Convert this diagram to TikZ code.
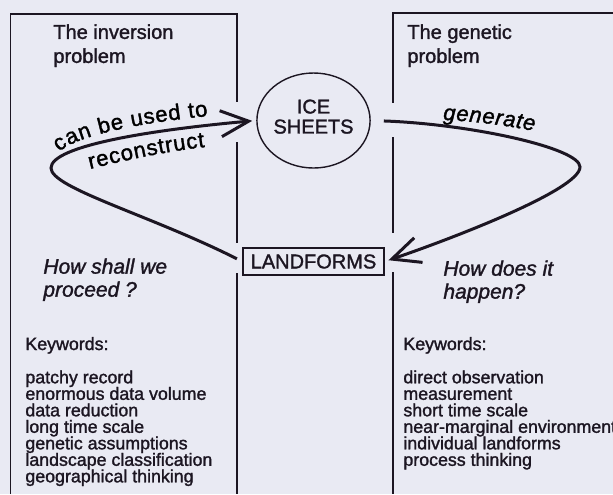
\documentclass[tikz,border=0pt]{standalone}
\usepackage{fontspec}
\setmainfont{Liberation Sans}[FakeBold=1.5]
\usetikzlibrary{shapes.geometric,arrows.meta,decorations.text}
\definecolor{paper}{RGB}{233,234,243}
\definecolor{ink}{RGB}{28,22,34}
\newcommand{\tightlines}{\lineskiplimit-20pt\relax}

\begin{document}
\begin{tikzpicture}[x=0.5pt,y=-0.5pt]
\tikzstyle{every node}+=[inner sep=0pt, text=ink]
\tikzstyle{frame}=[ink, line width=0.8pt]
\tikzstyle{loop}=[ink, line width=1.5pt, -{Straight Barb[length=14pt,width=13pt]}]
\tikzstyle{heading}=[anchor=north west, align=left, font=\fontsize{10}{12}\selectfont]
\tikzstyle{question}=[anchor=north west, align=left, font=\itshape\fontsize{10.5}{11.5}\selectfont]
\tikzstyle{keyhead}=[anchor=base west, font=\fontsize{8.9}{8.25}\selectfont]
\tikzstyle{keylist}=[anchor=north west, align=left, font=\fontsize{8.9}{8.25}\selectfont\tightlines]
\tikzstyle{curvetext}=[decorate, color=ink]
\fill [paper] (0,0) rectangle (613,494);
\useasboundingbox (0,0) rectangle (613,494);
% the two frames
\draw [frame] (10.5,494) -- (10.5,14) -- (237,14) -- (237,102);
\draw [frame] (237,142) -- (237,243);
\draw [frame] (237,273) -- (237,494);
\draw [frame] (613,13) -- (393,13) -- (393,103);
\draw [frame] (393,137) -- (393,233);
\draw [frame] (393,272) -- (393,494);
% middle
\node [ellipse, draw=ink, line width=0.7pt, minimum width=56.5pt, minimum height=47.5pt, align=center, text depth=4pt, font=\fontsize{10}{10}\selectfont] (ice) at (313.5,120.5) {ICE\\SHEETS};
\node [draw=ink, line width=0.7pt, minimum width=70.5pt, minimum height=13.5pt, font=\fontsize{10}{12}\selectfont] (land) at (313.5,261.5) {LANDFORMS};
% left side
\node [heading] (invtitle) at (53,24) {The inversion\\problem};
\node [question] (invq) at (43,258) {How shall we\\proceed ?};
\node [keyhead] (invkey) at (25,350) {Keywords:};
\node [keylist] (invlist) at (25,370) {patchy record\\enormous data volume\\data reduction\\long time scale\\genetic assumptions\\landscape classification\\geographical thinking};
% right side
\node [heading] (gentitle) at (407,24) {The genetic\\problem};
\node [question] (genq) at (443,260) {How does it\\happen?};
\node [keyhead] (genkey) at (403,350) {Keywords:};
\node [keylist] (genlist) at (403,370) {direct observation\\measurement\\short time scale\\near-marginal environment\\individual landforms\\process thinking};
% loops
\draw [loop, shorten <=3pt, shorten >=2pt] (land.west) .. controls (150,215) and (51,188) .. (51,168) .. controls (51,146) and (150,130) .. (ice.west);
\draw [loop, shorten <=6.5pt, shorten >=2pt] (ice.east) .. controls (470,124) and (580,148) .. (580,167) .. controls (580,190) and (448,240) .. (land.east);
\path [curvetext, decoration={text along path, text align=fit to path, text={|\fontsize{11}{13}\selectfont|can be used to}}] (59,152) .. controls (78,135) and (140,123) .. (208,116);
\path [curvetext, decoration={text along path, text align=fit to path, text={|\fontsize{11}{13}\selectfont|reconstruct}}] (90,169) .. controls (122,161) and (162,152) .. (205,147);
\path [curvetext, decoration={text along path, text align=fit to path, text={|\itshape\fontsize{11}{13}\selectfont|generate}}] (443,120) .. controls (470,121) and (505,125) .. (534,131);
\end{tikzpicture}
\end{document}
